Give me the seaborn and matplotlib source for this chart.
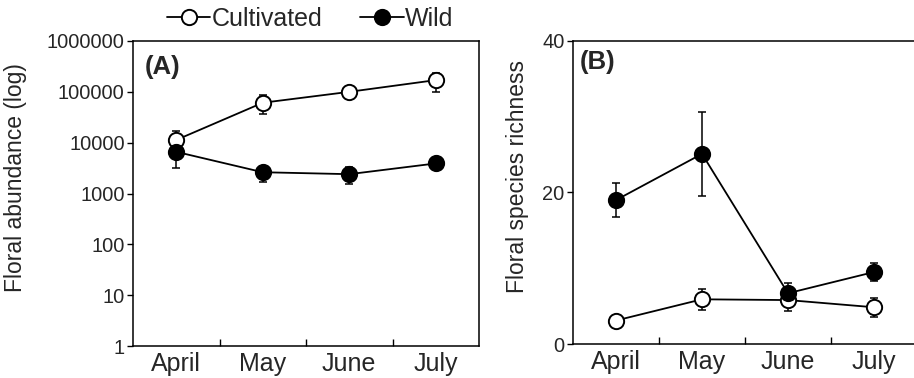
import seaborn as sns
import matplotlib.pyplot as plt
import matplotlib.ticker as ticker
import pandas as pd
import numpy as np

months = ["April", "May", "June", "July"]

# panel A: floral abundance (mean, SE)
abund_cult = [11300, 61000, 100000, 170000]
abund_cult_se = [6000, 25000, 25000, 70000]
abund_wild = [6600, 2620, 2400, 3900]
abund_wild_se = [3400, 900, 850, 700]

# panel B: floral species richness (mean, SE)
rich_cult = [3.1, 5.9, 5.8, 4.85]
rich_cult_se = [0.4, 1.35, 1.45, 1.25]
rich_wild = [19.0, 25.1, 6.7, 9.5]
rich_wild_se = [2.2, 5.5, 1.35, 1.2]

sns.set_theme(style="ticks")
plt.rcParams["font.family"] = ["Liberation Sans", "DejaVu Sans"]

fig = plt.figure(figsize=(9.14, 3.78), dpi=100)
ax_a = fig.add_axes([133 / 914, 32 / 378, 346 / 914, 305 / 378])
ax_b = fig.add_axes([573 / 914, 34 / 378, 344 / 914, 303 / 378])


def draw_panel(ax, cult, cult_se, wild, wild_se):
    x = np.arange(len(months))
    df = pd.DataFrame({"x": np.concatenate([x, x]),
                       "y": cult + wild,
                       "type": ["Cultivated"] * 4 + ["Wild"] * 4})
    ax.errorbar(x, cult, yerr=cult_se, fmt="none", ecolor="black",
                elinewidth=1.1, capsize=3, capthick=1.1, zorder=1)
    ax.errorbar(x, wild, yerr=wild_se, fmt="none", ecolor="black",
                elinewidth=1.1, capsize=3, capthick=1.1, zorder=1)
    sns.lineplot(data=df[df["type"] == "Cultivated"], x="x", y="y", ax=ax,
                 color="black", lw=1.3, marker="o", markersize=11,
                 markerfacecolor="white", markeredgecolor="black",
                 markeredgewidth=1.4, label="Cultivated", zorder=3)
    sns.lineplot(data=df[df["type"] == "Wild"], x="x", y="y", ax=ax,
                 color="black", lw=1.3, marker="o", markersize=11,
                 markerfacecolor="black", markeredgecolor="black",
                 markeredgewidth=1.4, label="Wild", zorder=3)
    ax.set_xlim(-0.5, 3.5)
    ax.set_xticks(x)
    ax.set_xticklabels(months, fontsize=18)
    ax.set_xticks([0.5, 1.5, 2.5], minor=True)
    ax.tick_params(axis="x", which="major", length=0, pad=4)
    ax.tick_params(axis="x", which="minor", direction="in", length=5,
                   width=1, color="black")
    ax.tick_params(axis="y", which="major", direction="out", length=4,
                   width=1, color="black", labelsize=14.4, pad=2)
    ax.tick_params(axis="y", which="minor", length=0)
    ax.set_xlabel("")
    for sp in ax.spines.values():
        sp.set_color("black")
        sp.set_linewidth(1.1)
    ax.get_legend().remove()


draw_panel(ax_a, abund_cult, abund_cult_se, abund_wild, abund_wild_se)
ax_a.set_yscale("log")
ax_a.set_ylim(1, 1e6)
ax_a.set_yticks([1, 10, 100, 1000, 10000, 100000, 1000000])
ax_a.yaxis.set_major_formatter(ticker.FuncFormatter(lambda v, p: str(int(round(v)))))
ax_a.yaxis.set_minor_locator(ticker.NullLocator())
ax_a.set_ylabel("Floral abundance (log)", fontsize=16.5)
ax_a.yaxis.set_label_coords(-0.305, 0.551)
ax_a.text(0.035, 0.955, "(A)", transform=ax_a.transAxes, fontsize=18.5,
          fontweight="bold", va="top", ha="left")

draw_panel(ax_b, rich_cult, rich_cult_se, rich_wild, rich_wild_se)
ax_b.set_ylim(0, 40)
ax_b.set_yticks([0, 20, 40])
ax_b.set_ylabel("Floral species richness", fontsize=16.5)
ax_b.yaxis.set_label_coords(-0.127, 0.554)
ax_b.text(0.02, 0.97, "(B)", transform=ax_b.transAxes, fontsize=18.5,
          fontweight="bold", va="top", ha="left")

handles, labels = ax_a.get_lines()[-2:], ["Cultivated", "Wild"]
fig.legend(handles, labels, loc="center", bbox_to_anchor=(310 / 914, 1 - 19 / 378),
           ncol=2, frameon=False, fontsize=18, handlelength=1.75,
           handletextpad=0.05, columnspacing=1.5, borderpad=0)

fig.savefig("out.png", dpi=100)
